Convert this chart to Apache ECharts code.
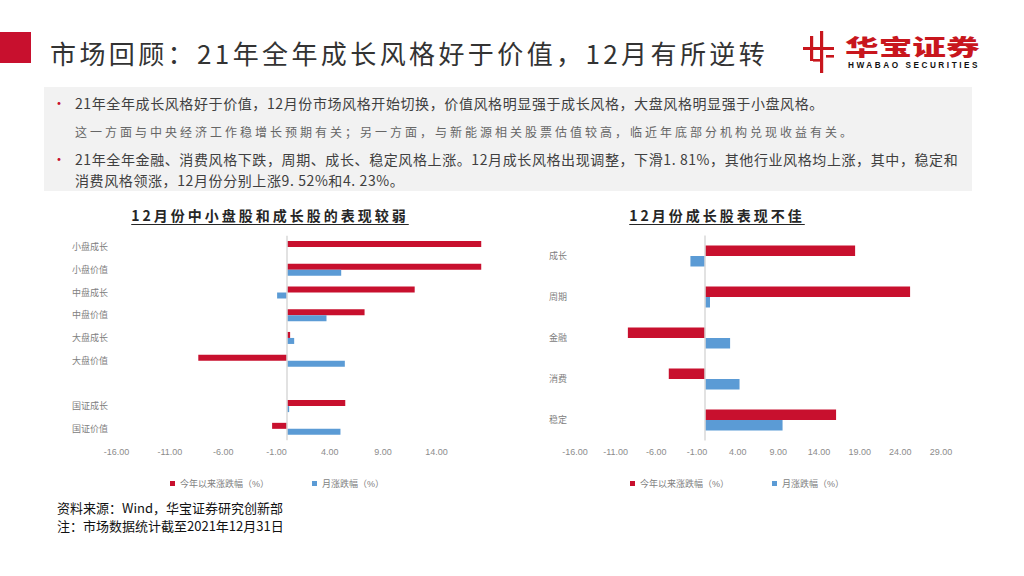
<!DOCTYPE html>
<html>
<head>
<meta charset="utf-8">
<script src="https://cdn.jsdelivr.net/npm/echarts@6/dist/echarts.min.js"></script>
<style>
  html, body { margin:0; padding:0; width:1024px; height:576px; background:#fff; overflow:hidden;
    font-family: "Noto Sans CJK SC", "Noto Sans", sans-serif; }
  #chart { position:absolute; left:0; top:0; width:1024px; height:576px; }
  .abs { position:absolute; white-space:nowrap; }
  #redbar { left:0; top:32px; width:31px; height:31px; background:#C8102E; }
  #title { left:50px; top:34px; font-size:26px; line-height:38px; color:#333; letter-spacing:3.4px; }
  #box { left:44px; top:87px; width:928px; height:104px; background:#f2f2f2; }
  .bullet { color:#C8102E; font-size:14px; line-height:18px; left:52px; }
  .txt { left:75px; font-size:14px; line-height:18px; color:#404040; letter-spacing:0.6px; }
  .txt2 { left:75px; font-size:12px; line-height:18px; color:#666; letter-spacing:3px; }
  .ctitle { font-size:14px; font-weight:bold; color:#262626; letter-spacing:3px; line-height:20px;
    text-decoration:underline; text-underline-offset:3px; transform:translateX(-50%); }
  .src { left:57px; font-size:13px; line-height:18px; color:#111; }
  #logoText { left:845px; top:34px; font-size:22px; line-height:22px; font-weight:900; color:#C8161D;
    transform:scaleX(1.53); transform-origin:left center; }
  #logoEn { left:848px; top:61.5px; font-family:"Liberation Sans", sans-serif; font-size:8.2px; line-height:7px;
    font-weight:bold; color:#111; letter-spacing:2.55px; }
</style>
</head>
<body>
<div id="chart"></div>

<div class="abs" id="redbar"></div>
<div class="abs" id="title">市场回顾：21年全年成长风格好于价值，12月有所逆转</div>

<svg class="abs" style="left:800px;top:29px" width="40" height="46" viewBox="0 0 40 46">
  <rect x="10" y="7" width="3.2" height="25" fill="#C8161D"/>
  <rect x="20" y="2" width="3.2" height="42" fill="#C8161D"/>
  <rect x="3" y="18" width="31" height="3" fill="#C8161D"/>
  <rect x="13" y="30" width="7" height="2.6" fill="#C8161D"/>
  <rect x="26" y="26" width="8" height="2.6" fill="#C8161D"/>
</svg>
<div class="abs" id="logoText">华宝证券</div>
<div class="abs" id="logoEn">HWABAO SECURITIES</div>

<div class="abs" id="box"></div>
<div class="abs bullet" style="top:93px">•</div>
<div class="abs txt" style="top:94px">21年全年成长风格好于价值，12月份市场风格开始切换，价值风格明显强于成长风格，大盘风格明显强于小盘风格。</div>
<div class="abs txt2" style="top:123px">这一方面与中央经济工作稳增长预期有关；另一方面，与新能源相关股票估值较高，临近年底部分机构兑现收益有关。</div>
<div class="abs bullet" style="top:149px">•</div>
<div class="abs txt" style="top:150px">21年全年金融、消费风格下跌，周期、成长、稳定风格上涨。12月成长风格出现调整，下滑1. 81%，其他行业风格均上涨，其中，稳定和</div>
<div class="abs txt" style="top:171px">消费风格领涨，12月份分别上涨9. 52%和4. 23%。</div>

<div class="abs ctitle" style="left:270px;top:205px">12月份中小盘股和成长股的表现较弱</div>
<div class="abs ctitle" style="left:717px;top:205px">12月份成长股表现不佳</div>

<div class="abs src" style="top:499px">资料来源：Wind，华宝证券研究创新部</div>
<div class="abs src" style="top:517px">注：市场数据统计截至2021年12月31日</div>

<script>
// ---- data ----
const seriesNames = ['今年以来涨跌幅（%）', '月涨跌幅（%）'];

const leftCategories = ['小盘成长', '小盘价值', '中盘成长', '中盘价值', '大盘成长', '大盘价值', '', '国证成长', '国证价值'];
const leftYtd   = [18.2, 18.2, 11.96, 7.26, 0.28, -8.33, null, 5.45, -1.41];
const leftMonth = [0, 5.07, -0.94, 3.69, 0.66, 5.41, null, 0.19, 5.0];

const rightCategories = ['成长', '周期', '金融', '消费', '稳定'];
const rightYtd   = [18.44, 25.2, -9.5, -4.47, 16.1];
const rightMonth = [-1.81, 0.6, 3.07, 4.23, 9.52];

// ---- chart ----
const RED = '#C8102E', BLUE = '#5B9BD5';
const numFont = '"Liberation Sans", "Noto Sans CJK SC", sans-serif';
const chart = echarts.init(document.getElementById('chart'), null, { renderer: 'svg' });

function xAxisCfg(idx, min, max, hideAbove) {
  return {
    type: 'value', gridIndex: idx, min: min, max: max, interval: 5,
    axisLine: { show: false }, axisTick: { show: false }, splitLine: { show: false },
    axisLabel: {
      margin: 7, fontSize: 9, color: '#8c8c8c', fontFamily: numFont,
      formatter: v => (v > hideAbove ? '' : v.toFixed(2))
    }
  };
}
function yAxisCfg(idx, cats, margin) {
  return {
    type: 'category', gridIndex: idx, data: cats, inverse: true,
    axisLine: { show: false }, axisTick: { show: false }, splitLine: { show: false },
    axisLabel: { align: 'left', margin: margin, fontSize: 9, color: '#808080', fontFamily: numFont }
  };
}
const zeroLine = {
  silent: true, symbol: 'none', label: { show: false },
  lineStyle: { color: '#d9d9d9', type: 'solid', width: 1.5 },
  data: [{ xAxis: 0 }]
};
function legendCfg(left, name) {
  return {
    left: left, top: 479, padding: 0, itemWidth: 5, itemHeight: 5, icon: 'rect',
    data: [name], textStyle: { fontSize: 9, color: '#7f7f7f', fontFamily: numFont }
  };
}

chart.setOption({
  animation: false,
  grid: [
    { left: 116.5, top: 235.7, width: 369, height: 204.5 },
    { left: 575, top: 235.5, width: 366, height: 205 }
  ],
  xAxis: [ xAxisCfg(0, -16, 18.6, 18), xAxisCfg(1, -16, 29, 30) ],
  yAxis: [ yAxisCfg(0, leftCategories, 44.5), yAxisCfg(1, rightCategories, 26) ],
  legend: [
    legendCfg(170, seriesNames[0]), legendCfg(312, seriesNames[1]),
    legendCfg(630, seriesNames[0]), legendCfg(772, seriesNames[1])
  ],
  series: [
    { name: seriesNames[0], type: 'bar', xAxisIndex: 0, yAxisIndex: 0, data: leftYtd,
      barWidth: 6, barGap: '0%', itemStyle: { color: RED }, markLine: zeroLine },
    { name: seriesNames[1], type: 'bar', xAxisIndex: 0, yAxisIndex: 0, data: leftMonth,
      barWidth: 6, barGap: '0%', itemStyle: { color: BLUE } },
    { name: seriesNames[0], type: 'bar', xAxisIndex: 1, yAxisIndex: 1, data: rightYtd,
      barWidth: 10.5, barGap: '0%', itemStyle: { color: RED }, markLine: zeroLine },
    { name: seriesNames[1], type: 'bar', xAxisIndex: 1, yAxisIndex: 1, data: rightMonth,
      barWidth: 10.5, barGap: '0%', itemStyle: { color: BLUE } }
  ]
});
</script>
</body>
</html>
